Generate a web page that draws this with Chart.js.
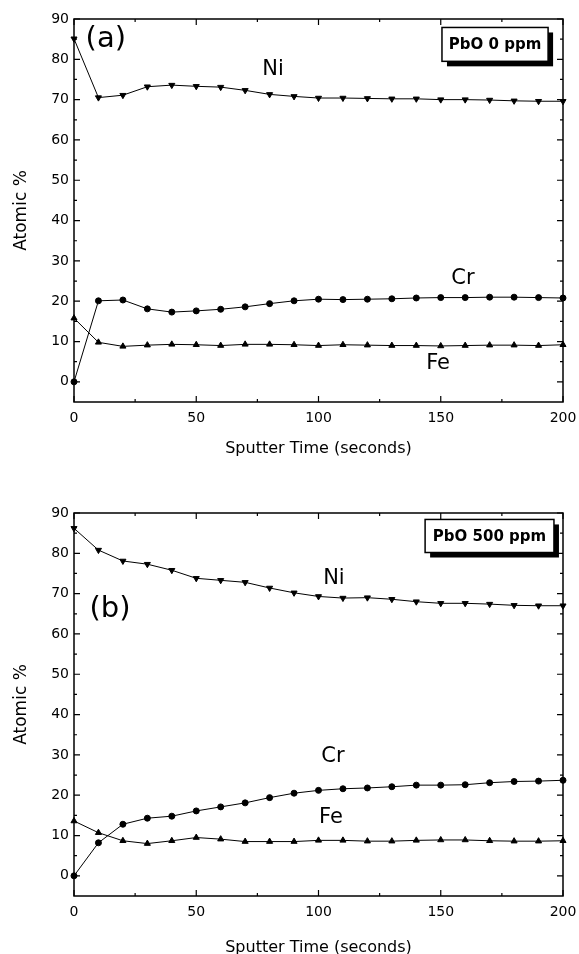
<!DOCTYPE html>
<html>
<head>
  <title>Atomic % vs Sputter Time</title>
  <script src="https://cdn.jsdelivr.net/npm/chart.js"></script>
  <style>
    body { margin: 0; background: #fff; overflow: hidden; }
    canvas { position: absolute; left: 0; }
  </style>
</head>
<body>
  <canvas id="chartA" width="579" height="470" style="top:0px"></canvas>
  <canvas id="chartB" width="579" height="494" style="top:470px"></canvas>

  <script>
    // sputter time (s)
    const sputterTime = [0, 10, 20, 30, 40, 50, 60, 70, 80, 90, 100, 110, 120, 130, 140, 150, 160, 170, 180, 190, 200];

    // panel (a) PbO 0 ppm
    const niA = [85.1, 70.5, 71.1, 73.2, 73.6, 73.3, 73.1, 72.3, 71.3, 70.8, 70.4, 70.4, 70.3, 70.2, 70.2, 70.0, 70.0, 69.9, 69.7, 69.6, 69.6];
    const crA = [0, 20.1, 20.3, 18.1, 17.3, 17.6, 18.0, 18.6, 19.4, 20.1, 20.5, 20.4, 20.5, 20.6, 20.8, 20.9, 20.9, 21.0, 21.0, 20.9, 20.8];
    const feA = [15.8, 9.8, 8.8, 9.1, 9.3, 9.2, 9.0, 9.3, 9.3, 9.2, 9.0, 9.2, 9.1, 9.0, 9.0, 8.9, 9.0, 9.1, 9.1, 9.0, 9.2];

    // panel (b) PbO 500 ppm
    const niB = [86.2, 80.8, 78.1, 77.3, 75.8, 73.8, 73.3, 72.8, 71.4, 70.2, 69.3, 68.9, 69.0, 68.6, 68.0, 67.6, 67.6, 67.4, 67.1, 67.0, 67.0];
    const crB = [0, 8.2, 12.8, 14.3, 14.8, 16.1, 17.1, 18.1, 19.4, 20.5, 21.2, 21.6, 21.8, 22.1, 22.5, 22.5, 22.6, 23.1, 23.4, 23.5, 23.7];
    const feB = [13.6, 10.7, 8.7, 8.0, 8.7, 9.5, 9.1, 8.5, 8.5, 8.5, 8.8, 8.8, 8.6, 8.6, 8.8, 8.9, 8.9, 8.7, 8.6, 8.6, 8.7];

    // tick labels
    const xTickValues = [0, 50, 100, 150, 200];
    const xMinorValues = [25, 75, 125, 175];
    const yTickValues = [0, 10, 20, 30, 40, 50, 60, 70, 80, 90];
    const yMinorValues = [5, 15, 25, 35, 45, 55, 65, 75, 85];

    const FONT = 'DejaVu Sans';

    function series(label, values, style, rotation, radius) {
      return {
        label: label,
        data: sputterTime.map((t, i) => ({ x: t, y: values[i] })),
        borderColor: '#000',
        backgroundColor: '#000',
        borderWidth: 1,
        pointStyle: style,
        pointRotation: rotation,
        pointRadius: radius,
        pointBorderWidth: 1,
        pointBorderColor: '#000',
        pointBackgroundColor: '#000',
        tension: 0,
        clip: false
      };
    }

    // frame + inward ticks on all four sides
    const frame = {
      id: 'frame',
      beforeDatasetsDraw(chart) {
        const { ctx, chartArea: a, scales: { x, y } } = chart;
        ctx.save();
        ctx.strokeStyle = '#000';
        ctx.lineWidth = 1.5;
        ctx.strokeRect(a.left, a.top, a.right - a.left, a.bottom - a.top);
        ctx.lineWidth = 1.2;
        const tick = (vals, len) => {
          vals.forEach(v => {
            const px = x.getPixelForValue(v);
            ctx.beginPath();
            ctx.moveTo(px, a.bottom); ctx.lineTo(px, a.bottom - len);
            ctx.moveTo(px, a.top); ctx.lineTo(px, a.top + len);
            ctx.stroke();
          });
        };
        const ytick = (vals, len) => {
          vals.forEach(v => {
            const py = y.getPixelForValue(v);
            ctx.beginPath();
            ctx.moveTo(a.left, py); ctx.lineTo(a.left + len, py);
            ctx.moveTo(a.right, py); ctx.lineTo(a.right - len, py);
            ctx.stroke();
          });
        };
        tick(xTickValues, 6);
        tick(xMinorValues, 3);
        ytick(yTickValues, 6);
        ytick(yMinorValues, 3);
        ctx.restore();
      }
    };

    // element labels and the PbO box
    const notes = {
      id: 'notes',
      afterDatasetsDraw(chart, args, opts) {
        const { ctx, scales: { x, y } } = chart;
        ctx.save();
        ctx.fillStyle = '#000';
        ctx.textAlign = 'center';
        ctx.textBaseline = 'middle';
        opts.texts.forEach(t => {
          ctx.font = t.size + 'px "' + FONT + '"';
          ctx.fillText(t.text, x.getPixelForValue(t.x), y.getPixelForValue(t.y));
        });
        const b = opts.box;
        const x0 = x.getPixelForValue(b.x0), x1 = x.getPixelForValue(b.x1);
        const y0 = y.getPixelForValue(b.y0), y1 = y.getPixelForValue(b.y1);
        ctx.fillRect(x0 + 5, y0 + 5, x1 - x0, y1 - y0);
        ctx.fillStyle = '#fff';
        ctx.fillRect(x0, y0, x1 - x0, y1 - y0);
        ctx.strokeStyle = '#000';
        ctx.lineWidth = 1.5;
        ctx.strokeRect(x0, y0, x1 - x0, y1 - y0);
        ctx.fillStyle = '#000';
        ctx.font = 'bold 15px "' + FONT + '"';
        ctx.fillText(b.text, (x0 + x1) / 2, (y0 + y1) / 2 + 1);
        ctx.restore();
      }
    };

    function makeChart(id, ni, cr, fe, topPad, titlePad, notesOpts) {
      const ctx = document.getElementById(id).getContext('2d');
      return new Chart(ctx, {
        type: 'line',
        data: {
          datasets: [
            series('Ni', ni, 'triangle', 180, 3.5),
            series('Cr', cr, 'circle', 0, 3),
            series('Fe', fe, 'triangle', 0, 3.5)
          ]
        },
        options: {
          responsive: false,
          animation: false,
          layout: { padding: { top: topPad, right: 16, left: 0, bottom: 0 } },
          plugins: {
            legend: { display: false },
            tooltip: { enabled: false },
            notes: notesOpts
          },
          scales: {
            x: {
              type: 'linear',
              min: 0,
              max: 200,
              afterBuildTicks: s => { s.ticks = xTickValues.map(v => ({ value: v })); },
              afterFit: s => { s.height = 68; s.paddingLeft = 0; s.paddingRight = 0; },
              grid: { display: false, drawTicks: false },
              border: { display: false },
              ticks: { color: '#000', font: { family: FONT, size: 14 }, padding: 8, autoSkip: false, maxRotation: 0 },
              title: {
                display: true,
                text: 'Sputter Time (seconds)',
                color: '#000',
                font: { family: FONT, size: 16 },
                padding: { top: 0, bottom: titlePad }
              }
            },
            y: {
              type: 'linear',
              min: -5,
              max: 90,
              afterBuildTicks: s => { s.ticks = yTickValues.map(v => ({ value: v })); },
              afterFit: s => { s.width = 74; },
              grid: { display: false, drawTicks: false },
              border: { display: false },
              ticks: { color: '#000', font: { family: FONT, size: 14 }, padding: 5, autoSkip: false },
              title: {
                display: true,
                text: 'Atomic %',
                color: '#000',
                font: { family: FONT, size: 17 },
                padding: { top: 11, bottom: 0 }
              }
            }
          }
        },
        plugins: [frame, notes]
      });
    }

    makeChart('chartA', niA, crA, feA, 19, 12, {
      texts: [
        { text: '(a)', x: 13, y: 85, size: 29 },
        { text: 'Ni', x: 81.4, y: 77.5, size: 21 },
        { text: 'Cr', x: 159.1, y: 25.5, size: 21 },
        { text: 'Fe', x: 148.9, y: 4.5, size: 21 }
      ],
      box: { text: 'PbO 0 ppm', x0: 150.5, x1: 193.9, y0: 87.9, y1: 79.5 }
    });

    makeChart('chartB', niB, crB, feB, 43, 7, {
      texts: [
        { text: '(b)', x: 14.7, y: 66.1, size: 29 },
        { text: 'Ni', x: 106.3, y: 73.8, size: 21 },
        { text: 'Cr', x: 105.9, y: 29.7, size: 21 },
        { text: 'Fe', x: 105.1, y: 14.4, size: 21 }
      ],
      box: { text: 'PbO 500 ppm', x0: 143.6, x1: 196.3, y0: 88.4, y1: 80.2 }
    });
  </script>
</body>
</html>
